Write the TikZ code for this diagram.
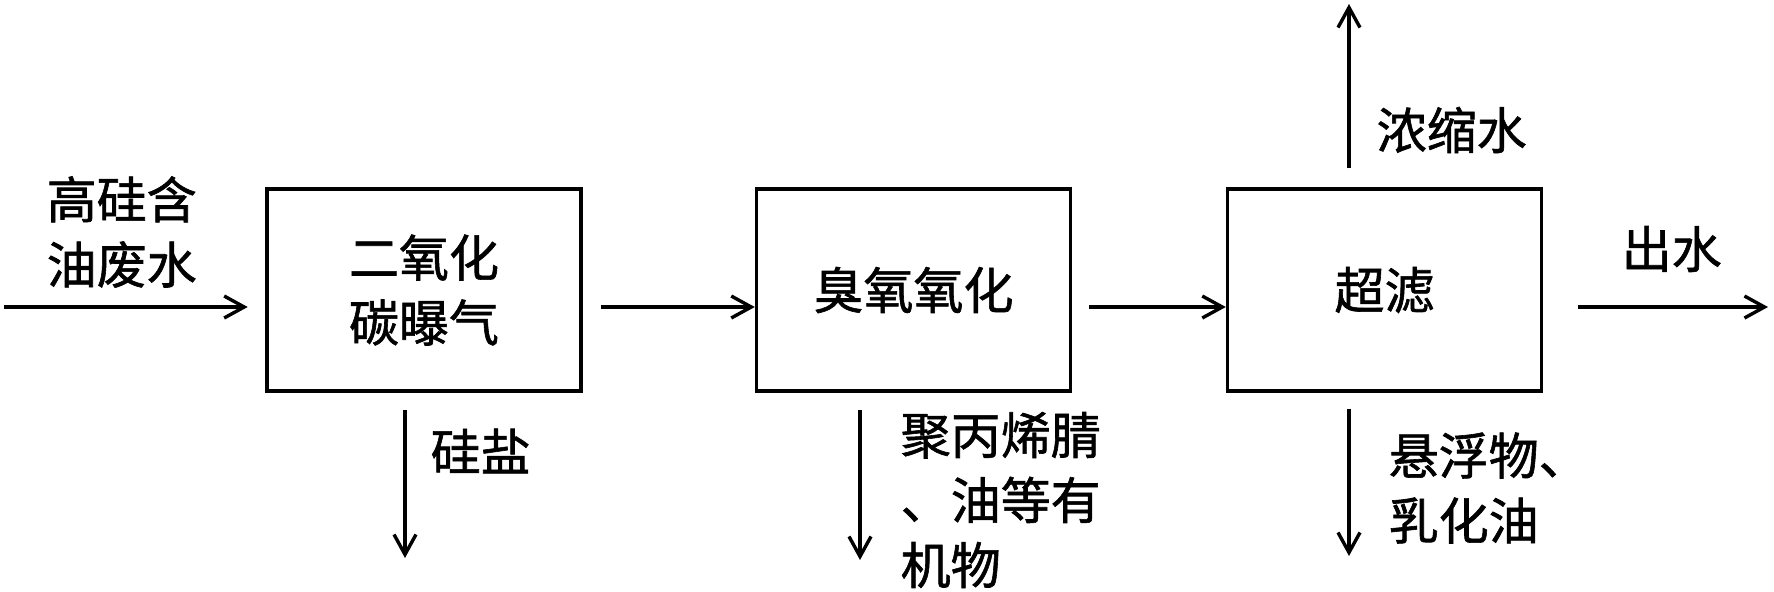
\documentclass[tikz,border=0pt]{standalone}
\usepackage{fontspec}
\newfontfamily\cjk[FakeBold=1.2]{Noto Sans CJK SC}
\usetikzlibrary{arrows.meta}

\begin{document}
\begin{tikzpicture}[x=0.5pt, y=-0.5pt, >={Straight Barb[length=10pt,width=11pt]}, line width=1.7pt,
    every node/.style={font=\cjk\fontsize{25pt}{32.5pt}\selectfont, inner sep=0pt},
    procbox/.style={draw, minimum width=157pt, minimum height=101pt, align=center},
    sidetext/.style={anchor=west, align=left}]
      \useasboundingbox (0,0) rectangle (1774,591);

      \node[procbox] (b1) at (424, 290) {二氧化\\碳曝气};
      \node[procbox] (b2) at (913.5, 290) {臭氧氧化};
      \node[procbox] (b3) at (1384.5, 290) {超滤};

      \coordinate (feed) at (4, 307);
      \coordinate (outlet) at (1768, 307);
      \coordinate (salt) at (405, 558);
      \coordinate (organic) at (860, 560);
      \coordinate (sludge) at (1349, 556);
      \coordinate (conc) at (1349, 4);

      \draw[->, shorten >=8.8pt] (feed) -- ([yshift=-8.5pt]b1.west);
      \draw[->, shorten <=9pt] ([yshift=-8.5pt]b1.east) -- ([yshift=-8.5pt]b2.west);
      \draw[->, shorten <=8.5pt] ([yshift=-8.5pt]b2.east) -- ([yshift=-8.5pt]b3.west);
      \draw[->, shorten <=17.5pt] ([yshift=-8.5pt]b3.east) -- (outlet);
      \draw[->, shorten <=8.5pt] (b1.south -| salt) -- (salt);
      \draw[->, shorten <=8.5pt] (b2.south -| organic) -- (organic);
      \draw[->, shorten <=8pt] (b3.south -| sludge) -- (sludge);
      \draw[->, shorten <=9.5pt] (b3.north -| conc) -- (conc);

      \node[sidetext] (feedtxt) at (45, 232) {高硅含\\油废水};
      \node[sidetext] (salttxt) at (429, 451) {硅盐};
      \node[sidetext] (orgtxt) at (899, 500) {聚丙烯腈\\、油等有\\机物};
      \node[sidetext] (conctxt) at (1375, 130) {浓缩水};
      \node[sidetext] (outtxt) at (1620, 249) {出水};
      \node[sidetext] (sludgetxt) at (1387, 488) {悬浮物、\\乳化油};
    \end{tikzpicture}
\end{document}
